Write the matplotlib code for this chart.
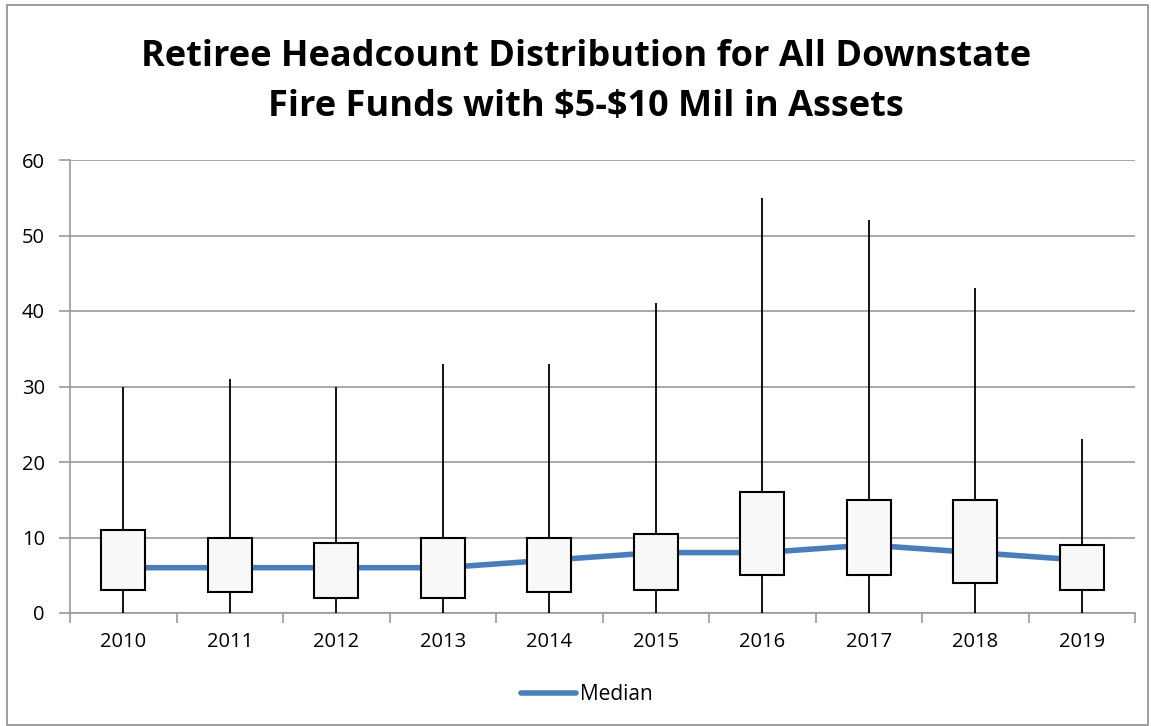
import numpy as np
import matplotlib
matplotlib.use("Agg")
import matplotlib.pyplot as plt
from matplotlib.patches import Rectangle

# values
years = ["2010", "2011", "2012", "2013", "2014", "2015", "2016", "2017", "2018", "2019"]
mins = [0, 0, 0, 0, 0, 0, 0, 0, 0, 0]
q1 = [3, 2.8, 2, 2, 2.8, 3, 5, 5, 4, 3]
medians = [6, 6, 6, 6, 7, 8, 8, 9, 8, 7]
q3 = [11, 10, 9.3, 10, 10, 10.5, 16, 15, 15, 9]
maxs = [30, 31, 30, 33, 33, 41, 55, 52, 43, 23]

plt.rcParams['font.family'] = ['Open Sans', 'DejaVu Sans']

fig = plt.figure(figsize=(11.51, 7.26), dpi=100)
ax = fig.add_axes([70 / 1151, 113 / 726, 1065 / 1151, 453 / 726])

x = np.arange(len(years))
grid_c = "#9a9a9a"

ax.plot(x, medians, color="#4a7ebb", lw=4, zorder=2, label="Median",
        solid_capstyle="round")
ax.vlines(x, mins, maxs, color="black", lw=1.3, zorder=3)
ax.bar(x, np.array(q3) - np.array(q1), bottom=q1, width=0.41,
       color="#f8f8f8", edgecolor="black", lw=1.5, zorder=4)

ax.set_xlim(-0.5, len(years) - 0.5)
ax.set_ylim(0, 60)
ax.set_yticks(range(0, 61, 10))
ax.yaxis.grid(True, color=grid_c, lw=1.2)
ax.set_axisbelow(True)

ax.set_xticks(x)
ax.set_xticklabels(years)
ax.set_xticks(np.arange(-0.5, len(years)), minor=True)
ax.tick_params(axis="x", which="major", length=0, pad=14, labelsize=14.5)
ax.tick_params(axis="x", which="minor", length=7, color=grid_c, width=1.2)
ax.tick_params(axis="y", length=8, color=grid_c, width=1.2, pad=10, labelsize=14.5)

for s in ["top", "right"]:
    ax.spines[s].set_visible(False)
for s in ["left", "bottom"]:
    ax.spines[s].set_color(grid_c)
    ax.spines[s].set_linewidth(1.2)

fig.text(586 / 1151, 1 - 57 / 726, "Retiree Headcount Distribution for All Downstate",
         ha="center", va="center", fontsize=26, fontweight="bold")
fig.text(586 / 1151, 1 - 107 / 726, r"Fire Funds with \$5-\$10 Mil in Assets",
         ha="center", va="center", fontsize=26, fontweight="bold")

fig.legend(loc="center", bbox_to_anchor=(587 / 1151, 1 - 695 / 726), frameon=False,
           fontsize=15, handlelength=2.6, handletextpad=0.2)

fig.patches.append(Rectangle((7 / 1151, 1 / 726), 1141 / 1151, 720 / 726,
                             transform=fig.transFigure, fill=False,
                             edgecolor="#8c8c8c", lw=1.2))

fig.savefig("out.png", dpi=100)
